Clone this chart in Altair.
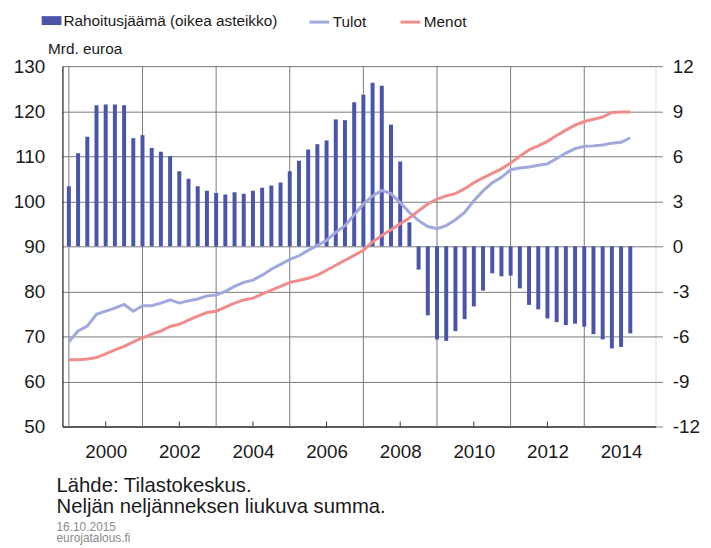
import altair as alt
import pandas as pd

# Quarterly observations 2000Q1 ... 2015Q2
years = [y for y in range(2000, 2016) for _ in range(4)][:62]
quarters = [q for _ in range(2000, 2016) for q in range(1, 5)][:62]

rahoitusjaama = [
    4.0, 6.2, 7.3, 9.4,
    9.45, 9.45, 9.4, 7.2,
    7.4, 6.55, 6.3, 6.0,
    5.0, 4.5, 4.0, 3.7,
    3.55, 3.45, 3.6, 3.5,
    3.7, 3.9, 4.05, 4.25,
    5.0, 5.7, 6.45, 6.8,
    7.05, 8.45, 8.4, 9.6,
    10.1, 10.9, 10.7, 8.1,
    5.65, 1.6, -1.55, -4.6,
    -6.2, -6.3, -5.65, -4.85,
    -4.0, -2.95, -1.8, -2.0,
    -1.95, -2.8, -3.9, -4.2,
    -4.8, -5.05, -5.25, -5.15,
    -5.35, -5.85, -6.2, -6.8,
    -6.7, -5.8,
]
tulot = [
    68.8, 71.2, 72.3, 74.9,
    75.6, 76.3, 77.1, 75.6,
    76.8, 76.8, 77.4, 78.1,
    77.4, 77.9, 78.3, 79.0,
    79.2, 80.0, 81.1, 82.0,
    82.5, 83.6, 84.9, 86.0,
    87.1, 87.9, 89.1, 90.2,
    91.3, 93.1, 94.6, 97.0,
    99.4, 101.2, 102.4, 101.7,
    99.7, 97.5, 95.7, 94.4,
    93.9, 94.6, 95.9, 97.5,
    100.1, 102.3, 104.1, 105.3,
    107.0, 107.4, 107.6, 108.0,
    108.3, 109.5, 110.7, 111.7,
    112.2, 112.3, 112.5, 112.9,
    113.1, 114.1,
]
menot = [
    64.8, 64.8, 65.0, 65.3,
    66.1, 67.0, 67.8, 68.8,
    69.7, 70.5, 71.2, 72.2,
    72.7, 73.6, 74.5, 75.3,
    75.6, 76.5, 77.4, 78.1,
    78.5, 79.4, 80.3, 81.1,
    82.0, 82.4, 82.9, 83.6,
    84.7, 85.8, 86.9, 88.0,
    89.1, 91.0, 92.4, 93.7,
    95.0, 96.3, 97.9, 99.4,
    100.5, 101.2, 101.7, 102.8,
    104.1, 105.2, 106.2, 107.2,
    108.5, 110.0, 111.4, 112.3,
    113.3, 114.6, 115.8, 116.9,
    117.7, 118.2, 118.7, 119.7,
    119.8, 119.8,
]

grid_years = [2000, 2002, 2004, 2006, 2008, 2010, 2012, 2014]
label_pos = [2001, 2003, 2005, 2007, 2009, 2011, 2013, 2015]
left_ticks = list(range(50, 131, 10))
right_ticks = list(range(-12, 13, 3))

BAR_NAME = "Rahoitusjäämä (oikea asteikko)"
BLUE = "#4A54A8"
LAV = "#A0A8DC"
PINK = "#F08C8C"
FONT = "Liberation Sans"
TXT = "#1a1a1a"

df = pd.DataFrame({
    "t": [y + (q - 1) / 4 for y, q in zip(years, quarters)],
    "bal": rahoitusjaama,
    "Tulot": tulot,
    "Menot": menot,
})

xscale = alt.Scale(domain=[1999.96, 2015.8], nice=False, zero=False)
xaxis = alt.Axis(values=label_pos, labelExpr="toString(datum.value - 1)",
                 labelFont=FONT, labelFontSize=19, labelColor=TXT,
                 labelPadding=16, labelFlush=False, ticks=False, tickSize=0,
                 grid=False, domainColor="#000000", domainWidth=1, title=None)
X = alt.X("t:Q", scale=xscale, axis=xaxis)

vgrid = alt.Chart(pd.DataFrame({"t": grid_years})).mark_rule(
    color="#7a7a7a", strokeWidth=1
).encode(x=X)

inner_ticks = alt.Chart(pd.DataFrame({"t": label_pos[:-1]})).mark_rule(
    color="#333333", strokeWidth=1
).encode(x=X, y=alt.value(359), y2=alt.value(364))

bars = alt.Chart(df).transform_calculate(
    s="'" + BAR_NAME + "'"
).mark_bar(size=4).encode(
    x=X,
    y=alt.Y("bal:Q", scale=alt.Scale(domain=[-12, 12], nice=False),
            axis=alt.Axis(orient="right", values=right_ticks, grid=False,
                          ticks=True, tickSize=7, tickColor="#7a7a7a",
                          labelPadding=10, labelAlign="left",
                          labelExpr="toString(datum.value)",
                          labelFont=FONT, labelFontSize=19, labelColor=TXT,
                          domain=False, title=None)),
    color=alt.Color("s:N", scale=alt.Scale(domain=[BAR_NAME], range=[BLUE]),
                    legend=alt.Legend(orient="none", legendX=-21, legendY=-56,
                                      direction="horizontal", title=None,
                                      symbolType="M-1,-0.45H1V0.45H-1Z",
                                      symbolSize=400, symbolStrokeWidth=0,
                                      labelFont=FONT, labelFontSize=15.5,
                                      labelColor=TXT, labelOffset=2,
                                      labelLimit=0, padding=0)),
)

lines = alt.Chart(df).transform_fold(
    ["Tulot", "Menot"], as_=["series", "value"]
).mark_line(strokeWidth=3).encode(
    x=X,
    y=alt.Y("value:Q", scale=alt.Scale(domain=[50, 130], nice=False, zero=False),
            axis=alt.Axis(orient="left", values=left_ticks, grid=True,
                          gridColor="#7a7a7a", gridWidth=1,
                          ticks=False, tickSize=0, labelPadding=18,
                          labelFont=FONT, labelFontSize=19, labelColor=TXT,
                          domainColor="#000000", domainWidth=1,
                          title="Mrd. euroa", titleAngle=0, titleX=-15,
                          titleY=-13, titleAlign="left",
                          titleBaseline="alphabetic", titleFont=FONT,
                          titleFontSize=15.5, titleFontWeight="normal",
                          titleColor=TXT)),
    stroke=alt.Stroke("series:N",
                      scale=alt.Scale(domain=["Tulot", "Menot"], range=[LAV, PINK]),
                      legend=alt.Legend(orient="none", legendX=248, legendY=-56,
                                        direction="horizontal", title=None,
                                        symbolType="stroke", symbolSize=400,
                                        symbolStrokeWidth=3,
                                        labelFont=FONT, labelFontSize=15.5,
                                        labelColor=TXT, labelOffset=2,
                                        labelLimit=0,
                                        columnPadding=28, padding=0)),
    order="t:Q",
)

chart = alt.layer(vgrid, inner_ticks, bars, lines).resolve_scale(
    y="independent"
).properties(
    width=599, height=364,
    autosize=alt.AutoSizeParams(type="none"),
    padding={"left": 55, "top": 56, "right": 48, "bottom": 120},
    title=alt.TitleParams(
        text=["Lähde: Tilastokeskus.", "Neljän neljänneksen liukuva summa."],
        subtitle=["16.10.2015", "eurojatalous.fi"],
        orient="bottom", anchor="start", frame="group", dx=-6, offset=15,
        font=FONT, fontSize=20.5, fontWeight="normal", color=TXT, lineHeight=21,
        subtitleFont=FONT, subtitleFontSize=12, subtitleColor="#8a8a8a",
        subtitleLineHeight=11, subtitlePadding=5,
    ),
).configure_view(stroke="#555555", strokeWidth=1).configure(background="white")

chart.save("out.html", embed_options={"renderer": "svg", "actions": False})
